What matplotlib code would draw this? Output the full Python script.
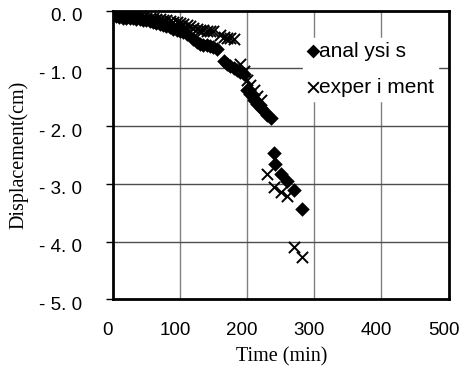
import matplotlib
matplotlib.use('Agg')
import matplotlib.pyplot as plt
from matplotlib.transforms import ScaledTranslation

# analysis (diamonds)
t_analysis = [5, 10, 15, 20, 25, 30, 35, 40, 45, 50, 55, 60, 65, 70, 75, 80, 85, 90, 95, 100,
              105, 110, 120, 125, 130, 135, 140, 145, 150, 155,
              165, 170, 175, 180, 185, 190, 195,
              200, 205, 210, 215, 220, 225, 230, 235,
              240, 242, 250, 260, 270, 282]
d_analysis = [-0.10, -0.11, -0.12, -0.12, -0.13, -0.13, -0.14, -0.15, -0.16, -0.17, -0.18, -0.20,
              -0.22, -0.24, -0.25, -0.27, -0.29, -0.31, -0.33, -0.35,
              -0.37, -0.40, -0.50, -0.55, -0.57, -0.59, -0.60, -0.62, -0.63, -0.66,
              -0.88, -0.92, -0.96, -1.00, -1.03, -1.06, -1.09,
              -1.38, -1.45, -1.55, -1.62, -1.68, -1.74, -1.80, -1.86,
              -2.46, -2.66, -2.83, -2.95, -3.10, -3.44]

# experiment (crosses)
t_experiment = [5, 10, 15, 20, 25, 30, 35, 40, 45, 50, 55, 60, 65, 70, 75, 80, 85, 90, 95, 100,
                105, 110, 115, 120, 125, 130, 135, 140, 145, 150, 160, 165, 170, 175, 180,
                190, 195, 200, 205, 210, 215, 220,
                230, 240, 250, 260, 270, 282]
d_experiment = [-0.05, -0.06, -0.07, -0.08, -0.08, -0.09, -0.10, -0.10, -0.11, -0.12, -0.12, -0.13,
                -0.14, -0.15, -0.16, -0.17, -0.18, -0.19, -0.20, -0.21,
                -0.23, -0.25, -0.27, -0.30, -0.31, -0.33, -0.34, -0.35, -0.35, -0.36,
                -0.42, -0.46, -0.47, -0.48, -0.50,
                -0.93, -1.05, -1.20, -1.28, -1.38, -1.48, -1.55,
                -2.83, -3.06, -3.14, -3.21, -4.09, -4.26]

x_ticks = [0, 100, 200, 300, 400, 500]
y_ticks = [0.0, -1.0, -2.0, -3.0, -4.0, -5.0]
y_labels = ['0. 0', '- 1. 0', '- 2. 0', '- 3. 0', '- 4. 0', '- 5. 0']

fig = plt.figure(figsize=(4.62, 3.72), dpi=100)
ax = fig.add_axes([0.244, 0.1954, 0.727, 0.7761])

ax.scatter(t_analysis, d_analysis, marker='D', s=55, color='black', lw=0, zorder=3,
           label='anal ysi s')
ax.scatter(t_experiment, d_experiment, marker='x', s=65, color='black', lw=1.4, zorder=3,
           label='exper i ment')

ax.set_xlim(0, 500)
ax.set_ylim(-5, 0)
ax.set_xticks(x_ticks)
ax.set_yticks(y_ticks)
ax.set_yticklabels(y_labels)

for x in x_ticks[1:-1]:
    ax.axvline(x, color='0.5', lw=1.0, zorder=1)
for y in y_ticks[1:-1]:
    ax.axhline(y, color='0.3', lw=1.0, zorder=1)

for s in ax.spines.values():
    s.set_linewidth(2)
ax.tick_params(axis='x', length=0, pad=16, labelsize=13.5, labelfontfamily='Liberation Sans')
ax.tick_params(axis='y', length=5, width=1, pad=17, labelsize=13.5, labelfontfamily='Liberation Sans')

# labels in the original sit a few pixels off their ticks
for lab in ax.get_yticklabels():
    lab.set_transform(lab.get_transform() + ScaledTranslation(0, -4 / 100, fig.dpi_scale_trans))
for lab in ax.get_xticklabels():
    lab.set_transform(lab.get_transform() + ScaledTranslation(-5 / 100, 0, fig.dpi_scale_trans))

ax.set_xlabel('Time (min)', family='Liberation Serif', fontsize=14.5)
ax.set_ylabel('Displacement(cm)', family='Liberation Serif', fontsize=14.5)
ax.xaxis.set_label_coords(0.504, -0.165)
ax.yaxis.set_label_coords(-0.25, 0.5)

leg = ax.legend(loc='upper left', bbox_to_anchor=(0.534, 0.942), frameon=True, fancybox=False,
                edgecolor='white', framealpha=1, handletextpad=0.0, borderpad=0.2,
                labelspacing=0.8, handlelength=0.6, markerscale=0.95,
                prop={'family': 'Liberation Sans', 'size': 15})
leg.set_zorder(5)

fig.savefig('out.png', dpi=100)
